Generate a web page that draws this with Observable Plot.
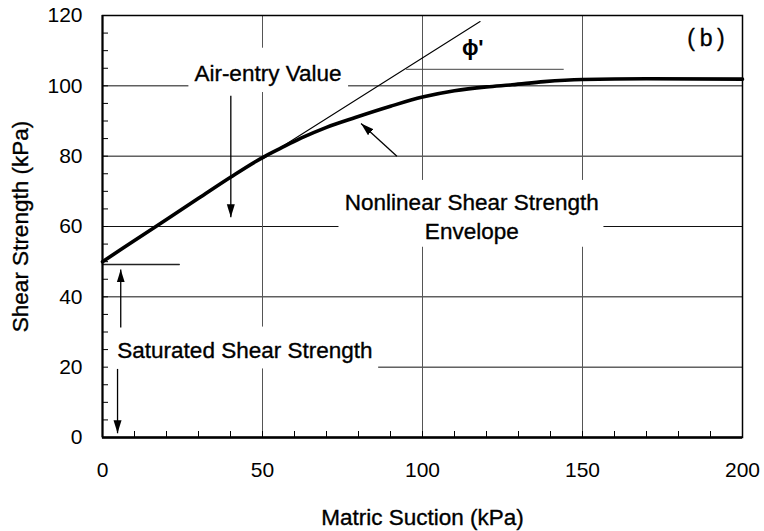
<!DOCTYPE html>
<html>
<head>
<meta charset="utf-8">
<script src="https://cdn.jsdelivr.net/npm/d3@7"></script>
<script src="https://cdn.jsdelivr.net/npm/@observablehq/plot@0.6"></script>
<style>
  html, body { margin: 0; padding: 0; background: #fff; }
  #chart svg { display: block; }
</style>
</head>
<body>
<div id="chart"></div>
<script>
// ---- data ----
const suction  = [0, 10, 20, 30, 40, 50, 56, 62, 70, 79, 90, 100, 110, 120, 128, 138, 150, 170, 200];
const strength = [50, 56, 62, 68, 74, 79.6, 82.4, 85.1, 88.2, 91, 94.2, 96.8, 98.6, 99.7, 100.3, 101.2, 101.8, 102, 101.9];

const tangentX = [50, 118];
const tangentY = [79.2, 118.3];

const phiLineX = [95, 144];
const phiLineY = [104.7, 104.7];

const satLineX = [0, 24];
const satLineY = [49.2, 49.2];

// arrows: start -> end (head at end)
const arrowX1 = [40.1, 5.7, 4.7, 92];
const arrowY1 = [97.2, 31.3, 19.5, 80];
const arrowX2 = [40.1, 5.7, 4.7, 80.8];
const arrowY2 = [62.6, 47.8, 1.2, 89.3];

// white label boxes that interrupt the grid
const boxX1 = [27, 0, 73.9];
const boxX2 = [76.9, 86.3, 156.7];
const boxY1 = [98.1, 19.5, 54.1];
const boxY2 = [110.7, 31.4, 73.1];

// annotations
const labelText = ["Air-entry Value", "Nonlinear Shear Strength\nEnvelope", "Saturated Shear Strength"];
const labelX = [51.7, 115.4, 44.5];
const labelY = [104.1, 63.3, 25.3];

const phiText = ["\u03D5'"];
const phiX = [115.7];
const phiY = [110.7];

const panelText = ["(\u2009b\u2009)"];
const panelX = [188.6];
const panelY = [113.4];

const xTicks = [0, 50, 100, 150, 200];
const yTicks = [0, 20, 40, 60, 80, 100, 120];
const xGrid = [50, 100, 150];
const yGrid = [20, 40, 60, 80, 100];
const xMinor = d3.range(0, 201, 10);
const yMinor = d3.range(0, 121, 5);

const xLabel = "Matric Suction (kPa)";
const yLabel = "Shear Strength (kPa)";

// ---- build tables ----
const curve = suction.map((x, i) => ({x, y: strength[i]}));
const tangent = tangentX.map((x, i) => ({x, y: tangentY[i]}));
const phiLine = phiLineX.map((x, i) => ({x, y: phiLineY[i]}));
const satLine = satLineX.map((x, i) => ({x, y: satLineY[i]}));
const arrows = arrowX1.map((x1, i) => ({x1, y1: arrowY1[i], x2: arrowX2[i], y2: arrowY2[i]}));
const boxes = boxX1.map((x1, i) => ({x1, x2: boxX2[i], y1: boxY1[i], y2: boxY2[i]}));
const labels = labelText.map((t, i) => ({t, x: labelX[i], y: labelY[i]}));

function filledHead(color, context) {
  const ns = "http://www.w3.org/2000/svg";
  const doc = (context && context.document) || document;
  const m = doc.createElementNS(ns, "marker");
  m.setAttribute("viewBox", "-13 -4.5 13 9");
  m.setAttribute("markerWidth", "13");
  m.setAttribute("markerHeight", "9");
  m.setAttribute("markerUnits", "userSpaceOnUse");
  m.setAttribute("orient", "auto");
  m.setAttribute("refX", "0");
  m.setAttribute("refY", "0");
  const p = doc.createElementNS(ns, "path");
  p.setAttribute("d", "M-13,-4L0,0L-13,4Z");
  p.setAttribute("fill", color);
  p.setAttribute("stroke", "none");
  m.appendChild(p);
  return m;
}

const font = "'Liberation Sans', Arial, Helvetica, sans-serif";
const ink = {fill: "#000", stroke: "#000", strokeWidth: 0.35};

const chart = Plot.plot({
  width: 764,
  height: 531,
  marginLeft: 102,
  marginRight: 22,
  marginTop: 15,
  marginBottom: 94,
  style: {fontFamily: font, fontSize: "21px", color: "#000", background: "#fff"},
  x: {domain: [0, 200]},
  y: {domain: [0, 120]},
  marks: [
    // grid
    Plot.ruleY(yGrid, {stroke: "#111", strokeWidth: 1}),
    Plot.ruleX(xGrid, {stroke: "#555", strokeWidth: 1}),
    // white boxes behind labels
    Plot.rect(boxes, {x1: "x1", x2: "x2", y1: "y1", y2: "y2", fill: "#fff"}),
    // minor ticks inside
    Plot.axisY({ticks: yMinor, tickSize: -6, tickFormat: () => "", strokeWidth: 1}),
    Plot.axisX({ticks: xMinor, tickSize: -6, tickFormat: () => "", strokeWidth: 1}),
    // tick labels
    Plot.axisY({ticks: yTicks, tickSize: 0, tickPadding: 20, fontSize: 21, label: null}),
    Plot.axisX({ticks: xTicks, tickSize: 0, tickPadding: 25, fontSize: 21, label: null}),
    // reference lines
    Plot.line(tangent, {x: "x", y: "y", stroke: "#000", strokeWidth: 1.1}),
    Plot.line(phiLine, {x: "x", y: "y", stroke: "#444", strokeWidth: 1}),
    Plot.line(satLine, {x: "x", y: "y", stroke: "#222", strokeWidth: 1.3}),
    // envelope
    Plot.line(curve, {x: "x", y: "y", stroke: "#000", strokeWidth: 3.6, curve: "monotone-x"}),
    // arrows
    Plot.link(arrows, {x1: "x1", y1: "y1", x2: "x2", y2: "y2", stroke: "#000", strokeWidth: 1.3, markerEnd: filledHead}),
    // labels
    Plot.text(labels, {x: "x", y: "y", text: "t", fontSize: 22.5, lineHeight: 1.28, ...ink}),
    Plot.text(phiText, {x: phiX, y: phiY, text: d => d, fontSize: 22, fontWeight: "bold", fill: "#000"}),
    Plot.text(panelText, {x: panelX, y: panelY, text: d => d, fontSize: 23, ...ink}),
    // axis titles
    Plot.text([yLabel], {frameAnchor: "left", textAnchor: "middle", lineAnchor: "middle", dx: -82, rotate: -90, fontSize: 22.5, ...ink}),
    Plot.text([xLabel], {frameAnchor: "bottom", textAnchor: "middle", lineAnchor: "middle", dy: 80, fontSize: 22.5, ...ink}),
    // frame
    Plot.frame({stroke: "#000", strokeWidth: 1.5}),
    Plot.ruleY([0], {stroke: "#000", strokeWidth: 2.5}),
    Plot.ruleX([0], {stroke: "#000", strokeWidth: 2})
  ]
});

document.getElementById("chart").appendChild(chart);
</script>
</body>
</html>
